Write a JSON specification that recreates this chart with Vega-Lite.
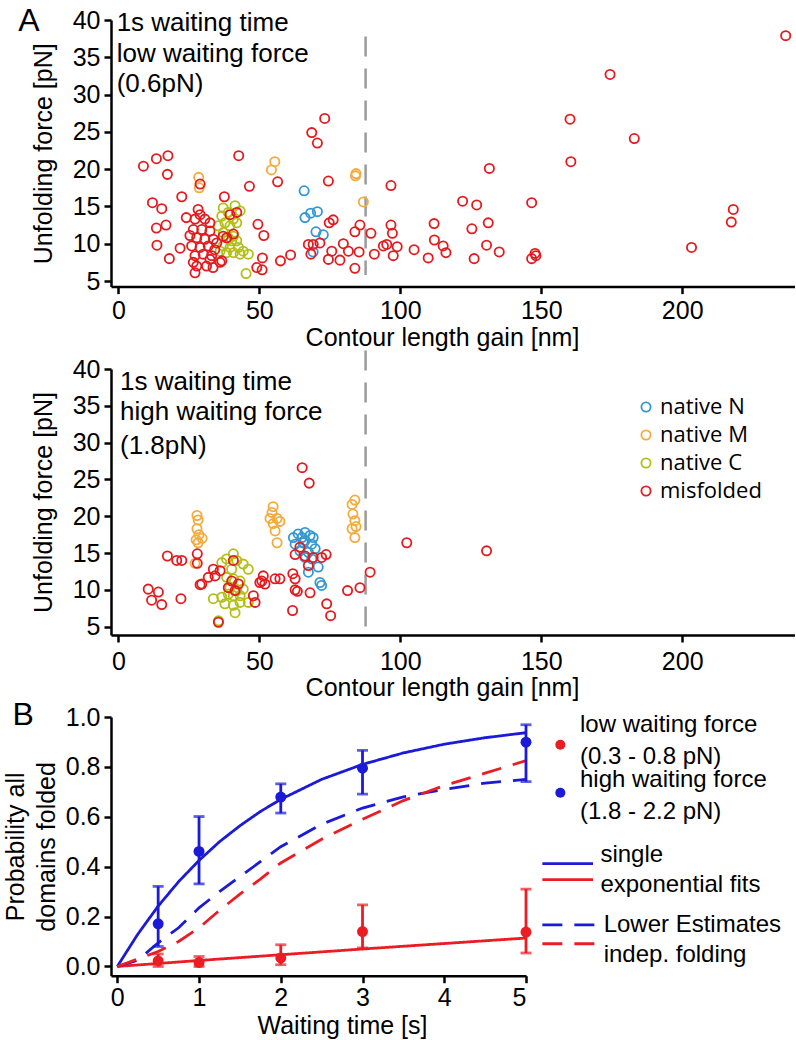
{
  "$schema": "https://vega.github.io/schema/vega-lite/v6.json",
  "background": "white",
  "padding": {"left": 3, "top": 5, "right": 0, "bottom": 0},
  "bounds": "flush",
  "spacing": 82,
  "config": {
    "view": {"stroke": null},
    "font": "Liberation Sans",
    "axis": {
      "domainColor": "black", "domainWidth": 2.5, "tickColor": "black", "tickWidth": 2.5, "tickSize": 7,
      "labelColor": "black", "labelFontSize": 25, "labelFont": "Liberation Sans", "labelPadding": 4,
      "titleFont": "Liberation Sans", "titleFontSize": 25, "titleFontWeight": "normal", "titleColor": "black",
      "grid": false, "titlePadding": 6
    }
  },
  "datasets": {
    "refTop": [{"gain": 87.7, "force": 37.8, "force2": 5.8}],
    "refBottom": [{"gain": 87.7, "force": 42.5, "force2": 4.4}],
    "annTop": [
      {"gain": -0.6, "force": 39.6, "label": "1s waiting time"},
      {"gain": -0.6, "force": 35.4, "label": "low waiting force"},
      {"gain": -0.6, "force": 31.4, "label": "(0.6pN)"}
    ],
    "annBottom": [
      {"gain": 0.6, "force": 38.2, "label": "1s waiting time"},
      {"gain": 0.6, "force": 34.1, "label": "high waiting force"},
      {"gain": 0.6, "force": 29.6, "label": "(1.8pN)"}
    ],
    "panelA": [{"gain": -31.7, "force": 39.8, "label": "A"}],
    "panelB": [{"t": -1.15, "p": 1.009, "label": "B"}],
    "top": [
      {"gain": 37.2, "force": 14.8, "state": "native C"},
      {"gain": 36.7, "force": 13.7, "state": "native C"},
      {"gain": 39.0, "force": 14.2, "state": "native C"},
      {"gain": 40.8, "force": 13.3, "state": "native C"},
      {"gain": 37.8, "force": 12.8, "state": "native C"},
      {"gain": 39.6, "force": 12.4, "state": "native C"},
      {"gain": 42.0, "force": 12.8, "state": "native C"},
      {"gain": 35.5, "force": 12.4, "state": "native C"},
      {"gain": 37.2, "force": 11.5, "state": "native C"},
      {"gain": 39.0, "force": 10.8, "state": "native C"},
      {"gain": 40.8, "force": 11.0, "state": "native C"},
      {"gain": 42.0, "force": 10.4, "state": "native C"},
      {"gain": 37.2, "force": 9.7, "state": "native C"},
      {"gain": 39.6, "force": 9.5, "state": "native C"},
      {"gain": 42.6, "force": 9.5, "state": "native C"},
      {"gain": 44.3, "force": 9.0, "state": "native C"},
      {"gain": 40.8, "force": 8.8, "state": "native C"},
      {"gain": 43.2, "force": 8.6, "state": "native C"},
      {"gain": 46.1, "force": 8.6, "state": "native C"},
      {"gain": 38.4, "force": 8.8, "state": "native C"},
      {"gain": 36.1, "force": 9.0, "state": "native C"},
      {"gain": 40.2, "force": 10.4, "state": "native C"},
      {"gain": 41.4, "force": 15.1, "state": "native C"},
      {"gain": 43.2, "force": 14.4, "state": "native C"},
      {"gain": 45.3, "force": 6.0, "state": "native C"},
      {"gain": 28.5, "force": 18.9, "state": "native M"},
      {"gain": 28.7, "force": 17.5, "state": "native M"},
      {"gain": 55.5, "force": 21.0, "state": "native M"},
      {"gain": 54.3, "force": 19.9, "state": "native M"},
      {"gain": 84.3, "force": 19.4, "state": "native M"},
      {"gain": 84.1, "force": 19.1, "state": "native M"},
      {"gain": 86.9, "force": 15.6, "state": "native M"},
      {"gain": 65.9, "force": 17.1, "state": "native N"},
      {"gain": 66.2, "force": 13.5, "state": "native N"},
      {"gain": 68.2, "force": 14.1, "state": "native N"},
      {"gain": 70.6, "force": 14.3, "state": "native N"},
      {"gain": 70.1, "force": 11.6, "state": "native N"},
      {"gain": 72.7, "force": 11.2, "state": "native N"},
      {"gain": 69.1, "force": 8.9, "state": "native N"},
      {"gain": 8.9, "force": 20.4, "state": "misfolded"},
      {"gain": 13.5, "force": 21.4, "state": "misfolded"},
      {"gain": 17.6, "force": 21.8, "state": "misfolded"},
      {"gain": 17.4, "force": 19.3, "state": "misfolded"},
      {"gain": 22.5, "force": 16.3, "state": "misfolded"},
      {"gain": 12.1, "force": 15.5, "state": "misfolded"},
      {"gain": 15.4, "force": 14.7, "state": "misfolded"},
      {"gain": 24.1, "force": 13.5, "state": "misfolded"},
      {"gain": 13.5, "force": 12.1, "state": "misfolded"},
      {"gain": 16.9, "force": 12.5, "state": "misfolded"},
      {"gain": 13.7, "force": 9.8, "state": "misfolded"},
      {"gain": 21.9, "force": 9.4, "state": "misfolded"},
      {"gain": 18.1, "force": 8.0, "state": "misfolded"},
      {"gain": 42.7, "force": 21.8, "state": "misfolded"},
      {"gain": 46.5, "force": 17.7, "state": "misfolded"},
      {"gain": 56.5, "force": 18.3, "state": "misfolded"},
      {"gain": 29.0, "force": 18.0, "state": "misfolded"},
      {"gain": 37.6, "force": 16.3, "state": "misfolded"},
      {"gain": 49.5, "force": 12.6, "state": "misfolded"},
      {"gain": 51.6, "force": 11.1, "state": "misfolded"},
      {"gain": 51.1, "force": 8.1, "state": "misfolded"},
      {"gain": 49.1, "force": 6.8, "state": "misfolded"},
      {"gain": 51.0, "force": 6.5, "state": "misfolded"},
      {"gain": 57.5, "force": 7.7, "state": "misfolded"},
      {"gain": 61.1, "force": 8.5, "state": "misfolded"},
      {"gain": 73.2, "force": 26.8, "state": "misfolded"},
      {"gain": 68.6, "force": 24.9, "state": "misfolded"},
      {"gain": 70.6, "force": 23.5, "state": "misfolded"},
      {"gain": 74.5, "force": 18.4, "state": "misfolded"},
      {"gain": 74.8, "force": 12.8, "state": "misfolded"},
      {"gain": 76.2, "force": 13.2, "state": "misfolded"},
      {"gain": 67.4, "force": 9.9, "state": "misfolded"},
      {"gain": 69.1, "force": 9.9, "state": "misfolded"},
      {"gain": 71.5, "force": 10.1, "state": "misfolded"},
      {"gain": 68.3, "force": 8.6, "state": "misfolded"},
      {"gain": 74.5, "force": 7.9, "state": "misfolded"},
      {"gain": 75.7, "force": 9.0, "state": "misfolded"},
      {"gain": 78.6, "force": 7.8, "state": "misfolded"},
      {"gain": 79.8, "force": 10.0, "state": "misfolded"},
      {"gain": 81.6, "force": 9.0, "state": "misfolded"},
      {"gain": 85.4, "force": 8.9, "state": "misfolded"},
      {"gain": 83.9, "force": 6.7, "state": "misfolded"},
      {"gain": 85.7, "force": 12.5, "state": "misfolded"},
      {"gain": 83.9, "force": 11.6, "state": "misfolded"},
      {"gain": 89.6, "force": 11.4, "state": "misfolded"},
      {"gain": 90.8, "force": 8.6, "state": "misfolded"},
      {"gain": 94.0, "force": 9.7, "state": "misfolded"},
      {"gain": 95.2, "force": 9.9, "state": "misfolded"},
      {"gain": 98.9, "force": 9.6, "state": "misfolded"},
      {"gain": 96.7, "force": 12.5, "state": "misfolded"},
      {"gain": 97.2, "force": 11.4, "state": "misfolded"},
      {"gain": 97.5, "force": 8.4, "state": "misfolded"},
      {"gain": 96.7, "force": 17.8, "state": "misfolded"},
      {"gain": 104.9, "force": 9.2, "state": "misfolded"},
      {"gain": 109.9, "force": 8.1, "state": "misfolded"},
      {"gain": 112.0, "force": 12.7, "state": "misfolded"},
      {"gain": 112.1, "force": 10.5, "state": "misfolded"},
      {"gain": 115.2, "force": 9.7, "state": "misfolded"},
      {"gain": 116.2, "force": 8.8, "state": "misfolded"},
      {"gain": 122.1, "force": 15.7, "state": "misfolded"},
      {"gain": 127.1, "force": 15.2, "state": "misfolded"},
      {"gain": 131.6, "force": 20.1, "state": "misfolded"},
      {"gain": 125.4, "force": 12.0, "state": "misfolded"},
      {"gain": 131.2, "force": 12.8, "state": "misfolded"},
      {"gain": 130.6, "force": 9.8, "state": "misfolded"},
      {"gain": 135.1, "force": 8.9, "state": "misfolded"},
      {"gain": 126.2, "force": 8.0, "state": "misfolded"},
      {"gain": 146.6, "force": 15.5, "state": "misfolded"},
      {"gain": 147.8, "force": 8.7, "state": "misfolded"},
      {"gain": 148.1, "force": 8.4, "state": "misfolded"},
      {"gain": 146.6, "force": 8.0, "state": "misfolded"},
      {"gain": 160.2, "force": 26.7, "state": "misfolded"},
      {"gain": 160.5, "force": 21.0, "state": "misfolded"},
      {"gain": 174.4, "force": 32.7, "state": "misfolded"},
      {"gain": 183.0, "force": 24.1, "state": "misfolded"},
      {"gain": 203.3, "force": 9.5, "state": "misfolded"},
      {"gain": 218.1, "force": 14.6, "state": "misfolded"},
      {"gain": 217.4, "force": 12.9, "state": "misfolded"},
      {"gain": 236.7, "force": 37.9, "state": "misfolded"},
      {"gain": 26.6, "force": 7.5, "state": "misfolded"},
      {"gain": 27.2, "force": 6.1, "state": "misfolded"},
      {"gain": 29.0, "force": 13.9, "state": "misfolded"},
      {"gain": 27.2, "force": 13.3, "state": "misfolded"},
      {"gain": 30.7, "force": 13.3, "state": "misfolded"},
      {"gain": 32.5, "force": 12.8, "state": "misfolded"},
      {"gain": 26.6, "force": 11.9, "state": "misfolded"},
      {"gain": 29.6, "force": 11.9, "state": "misfolded"},
      {"gain": 32.5, "force": 11.7, "state": "misfolded"},
      {"gain": 27.8, "force": 10.8, "state": "misfolded"},
      {"gain": 30.7, "force": 10.6, "state": "misfolded"},
      {"gain": 33.7, "force": 10.6, "state": "misfolded"},
      {"gain": 26.0, "force": 9.7, "state": "misfolded"},
      {"gain": 29.0, "force": 9.5, "state": "misfolded"},
      {"gain": 31.9, "force": 9.7, "state": "misfolded"},
      {"gain": 34.9, "force": 10.1, "state": "misfolded"},
      {"gain": 27.2, "force": 8.4, "state": "misfolded"},
      {"gain": 30.1, "force": 8.6, "state": "misfolded"},
      {"gain": 33.1, "force": 8.4, "state": "misfolded"},
      {"gain": 36.7, "force": 7.7, "state": "misfolded"},
      {"gain": 27.8, "force": 7.0, "state": "misfolded"},
      {"gain": 31.3, "force": 7.0, "state": "misfolded"},
      {"gain": 32.5, "force": 7.9, "state": "misfolded"},
      {"gain": 36.1, "force": 7.5, "state": "misfolded"},
      {"gain": 37.2, "force": 11.0, "state": "misfolded"},
      {"gain": 38.4, "force": 10.8, "state": "misfolded"},
      {"gain": 39.6, "force": 13.9, "state": "misfolded"},
      {"gain": 42.0, "force": 14.2, "state": "misfolded"},
      {"gain": 40.8, "force": 11.3, "state": "misfolded"},
      {"gain": 28.3, "force": 14.6, "state": "misfolded"},
      {"gain": 34.2, "force": 9.2, "state": "misfolded"},
      {"gain": 25.4, "force": 11.1, "state": "misfolded"},
      {"gain": 33.6, "force": 6.8, "state": "misfolded"}
    ],
    "bottom": [
      {"gain": 40.8, "force": 14.9, "state": "native C"},
      {"gain": 38.4, "force": 14.2, "state": "native C"},
      {"gain": 36.7, "force": 13.7, "state": "native C"},
      {"gain": 42.0, "force": 14.0, "state": "native C"},
      {"gain": 44.3, "force": 13.5, "state": "native C"},
      {"gain": 46.1, "force": 12.8, "state": "native C"},
      {"gain": 40.2, "force": 12.8, "state": "native C"},
      {"gain": 38.4, "force": 11.7, "state": "native C"},
      {"gain": 40.8, "force": 11.5, "state": "native C"},
      {"gain": 43.2, "force": 11.2, "state": "native C"},
      {"gain": 39.6, "force": 10.3, "state": "native C"},
      {"gain": 42.0, "force": 9.9, "state": "native C"},
      {"gain": 44.3, "force": 10.1, "state": "native C"},
      {"gain": 39.0, "force": 9.4, "state": "native C"},
      {"gain": 40.8, "force": 9.2, "state": "native C"},
      {"gain": 43.2, "force": 9.2, "state": "native C"},
      {"gain": 37.8, "force": 8.1, "state": "native C"},
      {"gain": 40.8, "force": 7.9, "state": "native C"},
      {"gain": 43.2, "force": 8.3, "state": "native C"},
      {"gain": 46.1, "force": 8.3, "state": "native C"},
      {"gain": 41.4, "force": 6.9, "state": "native C"},
      {"gain": 33.7, "force": 8.8, "state": "native C"},
      {"gain": 36.7, "force": 9.0, "state": "native C"},
      {"gain": 35.5, "force": 5.8, "state": "native C"},
      {"gain": 27.9, "force": 20.1, "state": "native M"},
      {"gain": 28.3, "force": 19.5, "state": "native M"},
      {"gain": 27.9, "force": 18.3, "state": "native M"},
      {"gain": 28.6, "force": 17.5, "state": "native M"},
      {"gain": 29.7, "force": 17.0, "state": "native M"},
      {"gain": 27.6, "force": 16.8, "state": "native M"},
      {"gain": 28.3, "force": 16.4, "state": "native M"},
      {"gain": 27.2, "force": 13.6, "state": "native M"},
      {"gain": 54.9, "force": 21.3, "state": "native M"},
      {"gain": 54.5, "force": 20.5, "state": "native M"},
      {"gain": 53.8, "force": 19.7, "state": "native M"},
      {"gain": 56.3, "force": 19.7, "state": "native M"},
      {"gain": 57.3, "force": 19.3, "state": "native M"},
      {"gain": 54.9, "force": 19.0, "state": "native M"},
      {"gain": 55.6, "force": 18.0, "state": "native M"},
      {"gain": 56.3, "force": 16.4, "state": "native M"},
      {"gain": 83.9, "force": 22.2, "state": "native M"},
      {"gain": 82.9, "force": 21.6, "state": "native M"},
      {"gain": 83.2, "force": 20.3, "state": "native M"},
      {"gain": 83.9, "force": 19.4, "state": "native M"},
      {"gain": 84.3, "force": 18.6, "state": "native M"},
      {"gain": 82.9, "force": 18.3, "state": "native M"},
      {"gain": 83.9, "force": 17.1, "state": "native M"},
      {"gain": 62.1, "force": 17.1, "state": "native N"},
      {"gain": 63.8, "force": 17.6, "state": "native N"},
      {"gain": 66.2, "force": 17.8, "state": "native N"},
      {"gain": 68.0, "force": 17.4, "state": "native N"},
      {"gain": 69.1, "force": 17.1, "state": "native N"},
      {"gain": 62.7, "force": 16.2, "state": "native N"},
      {"gain": 65.6, "force": 16.4, "state": "native N"},
      {"gain": 68.6, "force": 16.2, "state": "native N"},
      {"gain": 64.4, "force": 15.3, "state": "native N"},
      {"gain": 67.4, "force": 15.1, "state": "native N"},
      {"gain": 69.8, "force": 15.6, "state": "native N"},
      {"gain": 66.2, "force": 14.4, "state": "native N"},
      {"gain": 68.6, "force": 14.2, "state": "native N"},
      {"gain": 70.9, "force": 13.1, "state": "native N"},
      {"gain": 67.4, "force": 12.4, "state": "native N"},
      {"gain": 71.5, "force": 11.0, "state": "native N"},
      {"gain": 72.1, "force": 10.6, "state": "native N"},
      {"gain": 66.2, "force": 16.7, "state": "native N"},
      {"gain": 65.1, "force": 17.1, "state": "native N"},
      {"gain": 65.2, "force": 26.6, "state": "misfolded"},
      {"gain": 67.7, "force": 24.5, "state": "misfolded"},
      {"gain": 102.3, "force": 16.4, "state": "misfolded"},
      {"gain": 130.6, "force": 15.3, "state": "misfolded"},
      {"gain": 89.3, "force": 12.4, "state": "misfolded"},
      {"gain": 85.7, "force": 10.3, "state": "misfolded"},
      {"gain": 81.3, "force": 9.9, "state": "misfolded"},
      {"gain": 73.9, "force": 8.1, "state": "misfolded"},
      {"gain": 75.3, "force": 6.5, "state": "misfolded"},
      {"gain": 61.8, "force": 7.2, "state": "misfolded"},
      {"gain": 68.0, "force": 9.6, "state": "misfolded"},
      {"gain": 62.7, "force": 10.0, "state": "misfolded"},
      {"gain": 63.5, "force": 9.8, "state": "misfolded"},
      {"gain": 61.9, "force": 12.2, "state": "misfolded"},
      {"gain": 57.3, "force": 11.5, "state": "misfolded"},
      {"gain": 64.4, "force": 15.8, "state": "misfolded"},
      {"gain": 66.2, "force": 14.6, "state": "misfolded"},
      {"gain": 62.7, "force": 14.8, "state": "misfolded"},
      {"gain": 67.4, "force": 13.3, "state": "misfolded"},
      {"gain": 69.1, "force": 14.4, "state": "misfolded"},
      {"gain": 73.7, "force": 14.8, "state": "misfolded"},
      {"gain": 72.1, "force": 14.4, "state": "misfolded"},
      {"gain": 62.7, "force": 11.5, "state": "misfolded"},
      {"gain": 17.4, "force": 14.6, "state": "misfolded"},
      {"gain": 20.7, "force": 14.0, "state": "misfolded"},
      {"gain": 22.5, "force": 14.0, "state": "misfolded"},
      {"gain": 28.0, "force": 14.9, "state": "misfolded"},
      {"gain": 28.0, "force": 13.6, "state": "misfolded"},
      {"gain": 10.6, "force": 10.1, "state": "misfolded"},
      {"gain": 14.2, "force": 9.7, "state": "misfolded"},
      {"gain": 11.8, "force": 8.6, "state": "misfolded"},
      {"gain": 15.4, "force": 8.0, "state": "misfolded"},
      {"gain": 22.2, "force": 8.8, "state": "misfolded"},
      {"gain": 29.0, "force": 10.7, "state": "misfolded"},
      {"gain": 31.9, "force": 11.7, "state": "misfolded"},
      {"gain": 34.3, "force": 11.9, "state": "misfolded"},
      {"gain": 36.1, "force": 12.6, "state": "misfolded"},
      {"gain": 33.7, "force": 12.8, "state": "misfolded"},
      {"gain": 40.8, "force": 14.0, "state": "misfolded"},
      {"gain": 40.2, "force": 11.2, "state": "misfolded"},
      {"gain": 41.4, "force": 9.9, "state": "misfolded"},
      {"gain": 39.0, "force": 10.3, "state": "misfolded"},
      {"gain": 42.6, "force": 10.8, "state": "misfolded"},
      {"gain": 51.4, "force": 11.9, "state": "misfolded"},
      {"gain": 50.9, "force": 11.2, "state": "misfolded"},
      {"gain": 52.0, "force": 10.8, "state": "misfolded"},
      {"gain": 55.6, "force": 11.5, "state": "misfolded"},
      {"gain": 50.2, "force": 11.0, "state": "misfolded"},
      {"gain": 47.9, "force": 9.2, "state": "misfolded"},
      {"gain": 48.5, "force": 8.3, "state": "misfolded"},
      {"gain": 35.5, "force": 5.6, "state": "misfolded"},
      {"gain": 29.6, "force": 10.8, "state": "misfolded"}
    ],
    "probs": [
      {"t": 0.5, "p": 0.171, "lo": 0.08, "hi": 0.321, "force": "high"},
      {"t": 1, "p": 0.461, "lo": 0.331, "hi": 0.601, "force": "high"},
      {"t": 2, "p": 0.679, "lo": 0.615, "hi": 0.732, "force": "high"},
      {"t": 3, "p": 0.795, "lo": 0.691, "hi": 0.866, "force": "high"},
      {"t": 5, "p": 0.899, "lo": 0.741, "hi": 0.969, "force": "high"},
      {"t": 0.5, "p": 0.022, "lo": 0.0, "hi": 0.05, "force": "low"},
      {"t": 1, "p": 0.016, "lo": 0.0, "hi": 0.04, "force": "low"},
      {"t": 2, "p": 0.034, "lo": 0.007, "hi": 0.087, "force": "low"},
      {"t": 3, "p": 0.14, "lo": 0.074, "hi": 0.247, "force": "low"},
      {"t": 5, "p": 0.138, "lo": 0.054, "hi": 0.31, "force": "low"}
    ],
    "keydots": [
      {"t": 5.42, "p": 0.889, "force": "low"},
      {"t": 5.42, "p": 0.696, "force": "high"}
    ],
    "keytext": [
      {"t": 5.66, "p": 0.969, "label": "low waiting force"},
      {"t": 5.66, "p": 0.84, "label": "(0.3 - 0.8 pN)"},
      {"t": 5.66, "p": 0.749, "label": "high waiting force"},
      {"t": 5.66, "p": 0.62, "label": "(1.8 - 2.2 pN)"},
      {"t": 5.91, "p": 0.448, "label": "single"},
      {"t": 5.91, "p": 0.328, "label": "exponential fits"},
      {"t": 5.95, "p": 0.167, "label": "Lower Estimates"},
      {"t": 5.95, "p": 0.047, "label": "indep. folding"}
    ],
    "curves": [
      {"t": 0, "p": 0, "force": "high", "kind": "fit", "series": "hf"},
      {"t": 0.25, "p": 0.129, "force": "high", "kind": "fit", "series": "hf"},
      {"t": 0.5, "p": 0.242, "force": "high", "kind": "fit", "series": "hf"},
      {"t": 0.75, "p": 0.34, "force": "high", "kind": "fit", "series": "hf"},
      {"t": 1, "p": 0.425, "force": "high", "kind": "fit", "series": "hf"},
      {"t": 1.25, "p": 0.5, "force": "high", "kind": "fit", "series": "hf"},
      {"t": 1.5, "p": 0.564, "force": "high", "kind": "fit", "series": "hf"},
      {"t": 1.75, "p": 0.621, "force": "high", "kind": "fit", "series": "hf"},
      {"t": 2, "p": 0.67, "force": "high", "kind": "fit", "series": "hf"},
      {"t": 2.5, "p": 0.75, "force": "high", "kind": "fit", "series": "hf"},
      {"t": 3, "p": 0.81, "force": "high", "kind": "fit", "series": "hf"},
      {"t": 3.5, "p": 0.856, "force": "high", "kind": "fit", "series": "hf"},
      {"t": 4, "p": 0.891, "force": "high", "kind": "fit", "series": "hf"},
      {"t": 4.5, "p": 0.917, "force": "high", "kind": "fit", "series": "hf"},
      {"t": 5, "p": 0.937, "force": "high", "kind": "fit", "series": "hf"},
      {"t": 0, "p": 0, "force": "low", "kind": "fit", "series": "lf"},
      {"t": 1, "p": 0.024, "force": "low", "kind": "fit", "series": "lf"},
      {"t": 2, "p": 0.047, "force": "low", "kind": "fit", "series": "lf"},
      {"t": 3, "p": 0.07, "force": "low", "kind": "fit", "series": "lf"},
      {"t": 4, "p": 0.092, "force": "low", "kind": "fit", "series": "lf"},
      {"t": 5, "p": 0.114, "force": "low", "kind": "fit", "series": "lf"},
      {"t": 0, "p": 0, "force": "high", "kind": "estimate", "series": "he"},
      {"t": 0.25, "p": 0.025, "force": "high", "kind": "estimate", "series": "he"},
      {"t": 0.5, "p": 0.095, "force": "high", "kind": "estimate", "series": "he"},
      {"t": 0.75, "p": 0.155, "force": "high", "kind": "estimate", "series": "he"},
      {"t": 1, "p": 0.235, "force": "high", "kind": "estimate", "series": "he"},
      {"t": 1.25, "p": 0.3, "force": "high", "kind": "estimate", "series": "he"},
      {"t": 1.5, "p": 0.36, "force": "high", "kind": "estimate", "series": "he"},
      {"t": 1.75, "p": 0.42, "force": "high", "kind": "estimate", "series": "he"},
      {"t": 2, "p": 0.48, "force": "high", "kind": "estimate", "series": "he"},
      {"t": 2.5, "p": 0.57, "force": "high", "kind": "estimate", "series": "he"},
      {"t": 3, "p": 0.635, "force": "high", "kind": "estimate", "series": "he"},
      {"t": 3.5, "p": 0.68, "force": "high", "kind": "estimate", "series": "he"},
      {"t": 4, "p": 0.71, "force": "high", "kind": "estimate", "series": "he"},
      {"t": 4.5, "p": 0.735, "force": "high", "kind": "estimate", "series": "he"},
      {"t": 5, "p": 0.75, "force": "high", "kind": "estimate", "series": "he"},
      {"t": 0, "p": 0, "force": "low", "kind": "estimate", "series": "le"},
      {"t": 0.5, "p": 0.06, "force": "low", "kind": "estimate", "series": "le"},
      {"t": 0.75, "p": 0.1, "force": "low", "kind": "estimate", "series": "le"},
      {"t": 1, "p": 0.155, "force": "low", "kind": "estimate", "series": "le"},
      {"t": 1.25, "p": 0.225, "force": "low", "kind": "estimate", "series": "le"},
      {"t": 1.5, "p": 0.29, "force": "low", "kind": "estimate", "series": "le"},
      {"t": 1.75, "p": 0.35, "force": "low", "kind": "estimate", "series": "le"},
      {"t": 2, "p": 0.415, "force": "low", "kind": "estimate", "series": "le"},
      {"t": 2.5, "p": 0.51, "force": "low", "kind": "estimate", "series": "le"},
      {"t": 3, "p": 0.59, "force": "low", "kind": "estimate", "series": "le"},
      {"t": 3.5, "p": 0.665, "force": "low", "kind": "estimate", "series": "le"},
      {"t": 4, "p": 0.725, "force": "low", "kind": "estimate", "series": "le"},
      {"t": 4.5, "p": 0.775, "force": "low", "kind": "estimate", "series": "le"},
      {"t": 5, "p": 0.825, "force": "low", "kind": "estimate", "series": "le"},
      {"t": 5.2, "p": 0.412, "force": "high", "kind": "fit", "series": "khf"},
      {"t": 5.82, "p": 0.412, "force": "high", "kind": "fit", "series": "khf"},
      {"t": 5.2, "p": 0.348, "force": "low", "kind": "fit", "series": "klf"},
      {"t": 5.82, "p": 0.348, "force": "low", "kind": "fit", "series": "klf"},
      {"t": 5.2, "p": 0.167, "force": "high", "kind": "estimate", "series": "khe"},
      {"t": 5.9, "p": 0.167, "force": "high", "kind": "estimate", "series": "khe"},
      {"t": 5.2, "p": 0.091, "force": "low", "kind": "estimate", "series": "kle"},
      {"t": 5.9, "p": 0.091, "force": "low", "kind": "estimate", "series": "kle"}
    ]
  },
  "resolve": {
    "scale": {"x": "independent", "y": "independent", "color": "independent", "strokeDash": "independent"},
    "legend": {"color": "independent"}
  },
  "vconcat": [
    {
      "width": 684,
      "height": 266.6,
      "encoding": {
        "x": {"field": "gain", "type": "quantitative", "scale": {"domain": [-2.6, 240], "nice": false, "zero": false},
              "axis": {"title": "Contour length gain [nm]", "values": [0, 50, 100, 150, 200], "titleX": 331, "labelPadding": 5, "titlePadding": 2}},
        "y": {"field": "force", "type": "quantitative", "scale": {"domain": [4.25, 40], "nice": false, "zero": false},
              "axis": {"title": "Unfolding force [pN]", "values": [5, 10, 15, 20, 25, 30, 35, 40], "titlePadding": 16}}
      },
      "layer": [
        {"data": {"name": "refTop"}, "mark": {"type": "rule", "color": "#9b9b9b", "strokeWidth": 2.5, "strokeDash": [20, 12]},
         "encoding": {"y2": {"field": "force2"}}},
        {"data": {"name": "top"}, "mark": {"type": "point", "shape": "circle", "filled": false, "size": 85, "strokeWidth": 1.8, "opacity": 1},
         "encoding": {"color": {"field": "state", "type": "nominal",
           "scale": {"domain": ["native N", "native M", "native C", "misfolded"], "range": ["#3497d3", "#f5aa3c", "#b3bf16", "#e31b1f"]},
           "legend": null}}},
        {"data": {"name": "annTop"}, "mark": {"type": "text", "align": "left", "baseline": "middle", "fontSize": 26, "font": "Liberation Sans", "color": "black"},
         "encoding": {"text": {"field": "label"}}},
        {"data": {"name": "panelA"}, "mark": {"type": "text", "align": "center", "baseline": "middle", "fontSize": 32, "font": "Liberation Sans", "color": "black"},
         "encoding": {"text": {"field": "label"}}}
      ]
    },
    {
      "width": 684,
      "height": 266,
      "encoding": {
        "x": {"field": "gain", "type": "quantitative", "scale": {"domain": [-2.6, 240], "nice": false, "zero": false},
              "axis": {"title": "Contour length gain [nm]", "values": [0, 50, 100, 150, 200], "titleX": 331, "labelPadding": 7, "titlePadding": 1}},
        "y": {"field": "force", "type": "quantitative", "scale": {"domain": [3.87, 40], "nice": false, "zero": false},
              "axis": {"title": "Unfolding force [pN]", "values": [5, 10, 15, 20, 25, 30, 35, 40], "titlePadding": 16}}
      },
      "layer": [
        {"data": {"name": "refBottom"}, "mark": {"type": "rule", "color": "#9b9b9b", "strokeWidth": 2.5, "strokeDash": [20, 12]},
         "encoding": {"y2": {"field": "force2"}}},
        {"data": {"name": "bottom"}, "mark": {"type": "point", "shape": "circle", "filled": false, "size": 85, "strokeWidth": 1.8, "opacity": 1},
         "encoding": {"color": {"field": "state", "type": "nominal",
           "scale": {"domain": ["native N", "native M", "native C", "misfolded"], "range": ["#3497d3", "#f5aa3c", "#b3bf16", "#e31b1f"]},
           "legend": {"orient": "none", "legendX": 524, "legendY": 27, "title": null, "symbolType": "circle", "symbolSize": 85,
                      "symbolStrokeWidth": 1.8, "labelFont": "Open Sans", "labelFontSize": 22, "labelColor": "black",
                      "rowPadding": 6, "labelOffset": 3}}}},
        {"data": {"name": "annBottom"}, "mark": {"type": "text", "align": "left", "baseline": "middle", "fontSize": 26, "font": "Liberation Sans", "color": "black"},
         "encoding": {"text": {"field": "label"}}}
      ]
    },
    {
      "width": 415,
      "height": 258.7,
      "encoding": {
        "x": {"field": "t", "type": "quantitative", "scale": {"domain": [-0.077, 5], "nice": false, "zero": false},
              "axis": {"title": "Waiting time [s]", "values": [0, 1, 2, 3, 4, 5], "titleX": 231, "labelPadding": 3, "titlePadding": 3}},
        "y": {"field": "p", "type": "quantitative", "scale": {"domain": [-0.037, 1.0], "nice": false, "zero": false},
              "axis": {"title": ["Probability all", "domains folded"], "values": [0, 0.2, 0.4, 0.6, 0.8, 1.0], "format": ".1f", "titleLineHeight": 31}}
      },
      "layer": [
        {"data": {"name": "curves"}, "mark": {"type": "line", "strokeWidth": 2.8},
         "encoding": {
           "color": {"field": "force", "type": "nominal", "scale": {"domain": ["low", "high"], "range": ["#ec1c24", "#1a1ad8"]}, "legend": null},
           "strokeDash": {"field": "kind", "type": "nominal", "scale": {"domain": ["fit", "estimate"], "range": [[1, 0], [20, 12]]}, "legend": null},
           "detail": {"field": "series"}
         }},
        {"data": {"name": "probs"}, "mark": {"type": "rule", "strokeWidth": 2.8},
         "encoding": {
           "y": {"field": "lo", "type": "quantitative", "title": ["Probability all", "domains folded"], "scale": {"domain": [-0.037, 1.0], "nice": false, "zero": false}},
           "y2": {"field": "hi"},
           "color": {"field": "force", "type": "nominal", "scale": {"domain": ["low", "high"], "range": ["#ec1c24", "#1a1ad8"]}, "legend": null}
         }},
        {"data": {"name": "probs"}, "mark": {"type": "tick", "orient": "horizontal", "size": 11, "thickness": 2.8},
         "encoding": {
           "y": {"field": "lo", "type": "quantitative", "title": ["Probability all", "domains folded"], "scale": {"domain": [-0.037, 1.0], "nice": false, "zero": false}},
           "color": {"field": "force", "type": "nominal", "scale": {"domain": ["low", "high"], "range": ["#ec1c24", "#1a1ad8"]}, "legend": null}
         }},
        {"data": {"name": "probs"}, "mark": {"type": "tick", "orient": "horizontal", "size": 11, "thickness": 2.8},
         "encoding": {
           "y": {"field": "hi", "type": "quantitative", "title": ["Probability all", "domains folded"], "scale": {"domain": [-0.037, 1.0], "nice": false, "zero": false}},
           "color": {"field": "force", "type": "nominal", "scale": {"domain": ["low", "high"], "range": ["#ec1c24", "#1a1ad8"]}, "legend": null}
         }},
        {"data": {"name": "probs"}, "mark": {"type": "point", "shape": "circle", "filled": true, "size": 120, "opacity": 1},
         "encoding": {
           "color": {"field": "force", "type": "nominal", "scale": {"domain": ["low", "high"], "range": ["#ec1c24", "#1a1ad8"]}, "legend": null}
         }},
        {"data": {"name": "keydots"}, "mark": {"type": "point", "shape": "circle", "filled": true, "size": 100, "opacity": 1},
         "encoding": {
           "color": {"field": "force", "type": "nominal", "scale": {"domain": ["low", "high"], "range": ["#ec1c24", "#1a1ad8"]}, "legend": null}
         }},
        {"data": {"name": "keytext"}, "mark": {"type": "text", "align": "left", "baseline": "middle", "fontSize": 24, "font": "Liberation Sans", "color": "black"},
         "encoding": {"text": {"field": "label"}}},
        {"data": {"name": "panelB"}, "mark": {"type": "text", "align": "center", "baseline": "middle", "fontSize": 32, "font": "Liberation Sans", "color": "black"},
         "encoding": {"text": {"field": "label"}}}
      ]
    }
  ]
}
